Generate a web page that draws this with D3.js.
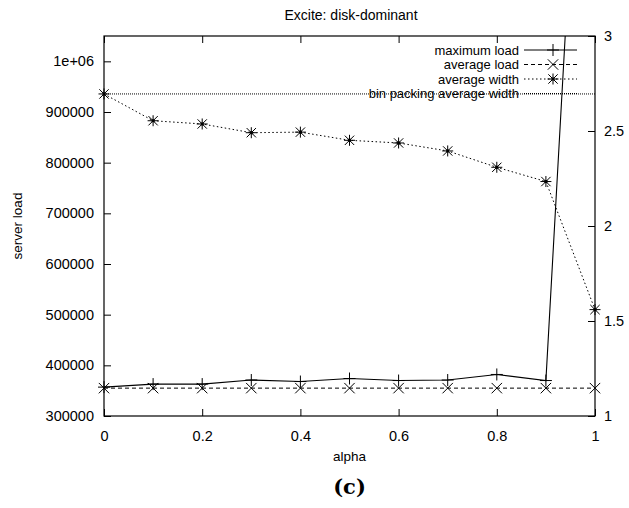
<!DOCTYPE html>
<html>
<head>
<meta charset="utf-8">
<script src="https://cdn.jsdelivr.net/npm/d3@7"></script>
<style>
  html, body { margin: 0; padding: 0; background: #fff; }
  svg text { font-family: "Liberation Sans", Arial, sans-serif; fill: #000; }
</style>
</head>
<body>
<svg id="chart" width="629" height="508"></svg>
<script>
// ---- data ----
const alphas = [0, 0.1, 0.2, 0.3, 0.4, 0.5, 0.6, 0.7, 0.8, 0.9, 1.0];
const maximumLoad = [357000, 363000, 363000, 371000, 368000, 374000, 370000, 371000, 382000, 370000, 2100000];
const averageLoad = [355000, 355000, 355000, 355000, 355000, 355000, 355000, 355000, 355000, 355000, 355000];
const averageWidth = [2.695, 2.554, 2.537, 2.491, 2.494, 2.451, 2.437, 2.395, 2.309, 2.234, 1.56];
const binPackingAverageWidth = 2.695;
const xTicks = [0, 0.2, 0.4, 0.6, 0.8, 1];
const leftTicks = [300000, 400000, 500000, 600000, 700000, 800000, 900000, 1000000];
const leftTickLabels = ["300000", "400000", "500000", "600000", "700000", "800000", "900000", "1e+06"];
const rightTicks = [1, 1.5, 2, 2.5, 3];
const rightTickLabels = ["1", "1.5", "2", "2.5", "3"];
const legendLabels = ["maximum load", "average load", "average width", "bin packing average width"];
const titleText = "Excite: disk-dominant";
const xLabel = "alpha";
const yLabel = "server load";
const caption = "(c)";

// ---- layout ----
const svg = d3.select("#chart");
const L = 104, R = 595, T = 36, B = 416;
const FS = "14.5px";
const x = d3.scaleLinear().domain([0, 1]).range([L, R]);
const yL = d3.scaleLinear().domain([300000, 1050000]).range([B, T]);
const yR = d3.scaleLinear().domain([1, 3]).range([B, T]);

svg.append("defs").append("clipPath").attr("id", "plotclip")
  .append("rect").attr("x", L).attr("y", T).attr("width", R - L).attr("height", B - T);

function styleAxis(g) {
  g.select(".domain").remove();
  g.selectAll(".tick line").attr("stroke", "#000").attr("stroke-width", 1);
  g.selectAll(".tick text").style("font-size", FS).style("font-family", '"Liberation Sans", Arial, sans-serif').attr("fill", "#000");
}

// axes
svg.append("g").attr("transform", `translate(${L},0)`)
  .call(d3.axisLeft(yL).tickValues(leftTicks).tickFormat((d, i) => leftTickLabels[i]).tickSize(-7).tickPadding(10))
  .call(styleAxis);
svg.append("g").attr("transform", `translate(${R},0)`)
  .call(d3.axisRight(yR).tickValues(rightTicks).tickFormat((d, i) => rightTickLabels[i]).tickSize(-7).tickPadding(9))
  .call(styleAxis);
svg.append("g").attr("transform", `translate(0,${B})`)
  .call(d3.axisBottom(x).tickValues(xTicks).tickFormat(d3.format("")).tickSize(-7).tickPadding(15))
  .call(styleAxis);
svg.append("g").attr("transform", `translate(0,${T})`)
  .call(d3.axisTop(x).tickValues(xTicks).tickFormat("").tickSize(-7))
  .call(styleAxis);

// frame
svg.append("rect").attr("x", L).attr("y", T).attr("width", R - L).attr("height", B - T)
  .attr("fill", "none").attr("stroke", "#000").attr("stroke-width", 1.2);

// labels
svg.append("text").attr("x", 351).attr("y", 20).attr("text-anchor", "middle").style("font-size", "14px").text(titleText);
svg.append("text").attr("x", (L + R) / 2).attr("y", 461).attr("text-anchor", "middle").style("font-size", "13.5px").text(xLabel);
svg.append("text").attr("transform", `translate(22,${(T + B) / 2}) rotate(-90)`).attr("text-anchor", "middle").style("font-size", "13.5px").text(yLabel);
svg.append("text").attr("x", (L + R) / 2).attr("y", 494).attr("text-anchor", "middle")
  .style("font-family", '"DejaVu Serif", "Liberation Serif", serif').style("font-weight", "bold").style("font-size", "21px").text(caption);

// marker paths
function plusPath(cx, cy, s) { return `M${cx - s},${cy}H${cx + s}M${cx},${cy - s}V${cy + s}`; }
function crossPath(cx, cy, s) { return `M${cx - s},${cy - s}L${cx + s},${cy + s}M${cx - s},${cy + s}L${cx + s},${cy - s}`; }
function starPath(cx, cy, s) { return plusPath(cx, cy, s) + crossPath(cx, cy, s * 0.85); }

const plot = svg.append("g").attr("clip-path", "url(#plotclip)");
const idx = d3.range(alphas.length);

// bin packing average width
plot.append("path")
  .attr("d", d3.line()([[x(0), yR(binPackingAverageWidth)], [x(1), yR(binPackingAverageWidth)]]))
  .attr("fill", "none").attr("stroke", "#000").attr("stroke-width", 1).attr("stroke-dasharray", "1,1");

// average width
plot.append("path")
  .attr("d", d3.line().x(i => x(alphas[i])).y(i => yR(averageWidth[i]))(idx))
  .attr("fill", "none").attr("stroke", "#000").attr("stroke-width", 1).attr("stroke-dasharray", "1.5,2.5");
svg.append("g").selectAll("path").data(idx).join("path")
  .attr("d", i => starPath(x(alphas[i]), yR(averageWidth[i]), 5.5))
  .attr("stroke", "#000").attr("stroke-width", 1).attr("fill", "none");
svg.append("g").selectAll("rect").data(idx).join("rect")
  .attr("x", i => x(alphas[i]) - 1.5).attr("y", i => yR(averageWidth[i]) - 1.5)
  .attr("width", 3).attr("height", 3).attr("fill", "#000");

// average load
plot.append("path")
  .attr("d", d3.line().x(i => x(alphas[i])).y(i => yL(averageLoad[i]))(idx))
  .attr("fill", "none").attr("stroke", "#000").attr("stroke-width", 1).attr("stroke-dasharray", "4,3");
svg.append("g").selectAll("path").data(idx).join("path")
  .attr("d", i => crossPath(x(alphas[i]), yL(averageLoad[i]), 5.2))
  .attr("stroke", "#000").attr("stroke-width", 1).attr("fill", "none");

// maximum load
plot.append("path")
  .attr("d", d3.line().x(i => x(alphas[i])).y(i => yL(maximumLoad[i]))(idx))
  .attr("fill", "none").attr("stroke", "#000").attr("stroke-width", 1.1);
svg.append("g").selectAll("path").data(idx.filter(i => maximumLoad[i] <= yL.domain()[1])).join("path")
  .attr("d", i => plusPath(x(alphas[i]), yL(maximumLoad[i]), 6))
  .attr("stroke", "#000").attr("stroke-width", 1).attr("fill", "none");

// legend
const legY = [50, 64.5, 79, 93.5];
const legStyles = [
  { dash: null, marker: (cx, cy) => plusPath(cx, cy, 6) },
  { dash: "4,3", marker: (cx, cy) => crossPath(cx, cy, 5.2) },
  { dash: "1.5,2.5", marker: (cx, cy) => starPath(cx, cy, 5.5), dot: true },
  { dash: "1,1", marker: null }
];
const leg = svg.append("g");
legendLabels.forEach((lab, i) => {
  const yy = legY[i];
  leg.append("text").attr("x", 519).attr("y", yy + 4.7).attr("text-anchor", "end").style("font-size", "13px").text(lab);
  const ln = leg.append("line").attr("x1", 524).attr("x2", 577).attr("y1", yy).attr("y2", yy)
    .attr("stroke", "#000").attr("stroke-width", 1);
  if (legStyles[i].dash) ln.attr("stroke-dasharray", legStyles[i].dash);
  if (legStyles[i].marker) leg.append("path").attr("d", legStyles[i].marker(553, yy)).attr("stroke", "#000").attr("fill", "none");
  if (legStyles[i].dot) leg.append("rect").attr("x", 551.5).attr("y", yy - 1.5).attr("width", 3).attr("height", 3).attr("fill", "#000");
});
</script>
</body>
</html>
